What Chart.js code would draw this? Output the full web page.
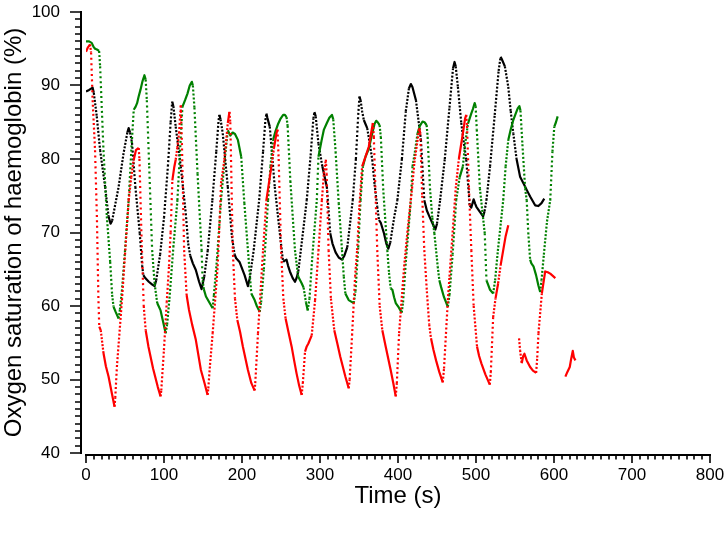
<!DOCTYPE html>
<html>
<head>
<meta charset="utf-8">
<script src="https://cdn.jsdelivr.net/npm/chart.js@4/dist/chart.umd.min.js"></script>
<style>
  html, body { margin: 0; padding: 0; background: #ffffff; }
  #wrap { width: 728px; height: 539px; }
</style>
</head>
<body>
<div id="wrap"><canvas id="c" width="728" height="539"></canvas></div>
<script>
// ---- data: [time (s), oxygen saturation (%)] ----
const blackData = [[0,89.2],[4,89.4],[8.5,89.7],[10,89.0],[13.8,85.8],[18.1,81.2],[24.5,76.2],[28.9,72.2],[31.5,71.2],[33.5,71.6],[35.3,72.6],[41.8,76.2],[48.2,80.8],[53,83.6],[54.7,84.2],[56.5,83.6],[59,82.2],[63.3,76.2],[68.9,69.9],[72,65.5],[73.5,64.2],[76,63.8],[80.5,63.3],[85,62.9],[87.9,62.7],[90,63.5],[95,67],[100,72],[105,79],[108.5,85],[110.5,87.8],[112,87.2],[115,84.4],[121.5,79],[127.9,72.6],[131,68.5],[133.5,66.9],[137,65.8],[140.8,64.9],[145,63.3],[148.2,62.3],[151.6,64],[156,67.5],[162,74.4],[167,81],[170,85.3],[171,86],[172.5,85.4],[175.3,83.5],[181.8,76.2],[187,69.5],[190.5,67],[192.5,66.5],[196.8,66],[203.3,64.2],[207.6,62.7],[210,63.8],[215,67.6],[222,74.4],[227,81],[230,85.3],[231.3,86.2],[232.5,85.6],[235.6,84.4],[242,76.2],[248.5,69.9],[251,67.5],[252.8,66],[255,66.2],[257.1,66.3],[259,65.5],[261.4,64.7],[265,63.8],[267.9,63.3],[270,63.8],[272.2,64.7],[277,69],[283,74.4],[288,80.5],[291.5,85.5],[292.9,86.4],[294.5,85.8],[298,82.1],[303,79],[308.8,76.2],[311,73],[313.1,69.9],[316,68.5],[320,67.3],[324,66.6],[328.2,66.3],[331,66.8],[335,68],[342,74.4],[346,80],[349,86],[350.6,88.5],[352,88],[354,86.5],[356.2,85.3],[360.5,84.2],[364,82],[367,79.9],[370,76.5],[373.4,73.5],[375.6,71.7],[378,71.3],[382,69.9],[385,68.5],[387.6,67.8],[390,68.6],[395,72],[399.2,74.4],[405,80],[410,86.5],[414,89.6],[416.5,90.2],[418.5,89.8],[423,88],[429.4,82.6],[433.7,74.4],[437,73],[440.2,72.2],[444,71.3],[447.9,70.4],[450,71.2],[454,74.4],[460,80],[466,87],[470.5,92.3],[472.5,93.2],[474,92.6],[476.8,89.8],[481.1,84.9],[484,82.5],[487.5,79.9],[491.9,73.7],[494,73.4],[497,74.5],[499,73.9],[500.5,73.5],[505,72.8],[509.1,72.2],[511,72.9],[513.4,74.4],[518,79],[524,86],[529,92],[531.5,93.9],[533,93.6],[537,92.6],[541.4,89.8],[544.5,86.5],[547.8,83.5],[552,80],[556.5,77.6],[560.8,76.7],[565,75.8],[569.4,74.9],[575.8,73.7],[580,73.6],[584,74],[587.5,74.6]];

const greenData = [[0,96.0],[4,96.0],[7.3,95.8],[9.5,95.3],[11.6,95.0],[14,94.9],[16.8,94.7],[18.1,92.6],[22.4,81.2],[26.7,72.2],[31,66],[33.5,61.5],[35.3,59.9],[38,59.2],[41.8,58.3],[43.5,59.5],[46,62],[50,67.5],[54.7,74.4],[58,81],[61.2,86.7],[63.5,87.1],[65.5,87.6],[67.5,88.5],[69.8,89.4],[72.5,90.6],[74.9,91.4],[76.5,90.8],[78,88],[81,79],[84.8,67.6],[88,63],[91.3,60.4],[95.6,59.4],[99,57.8],[102.1,56.3],[104,57.5],[107,61],[112,68],[117.2,74.4],[120.5,81],[123.6,87.1],[127,88],[130.1,88.9],[133,90],[135.7,90.5],[137,90.0],[139,87],[143,78],[148.2,67.6],[149.5,63.5],[151,62.3],[153.8,61.3],[158,60.5],[162.4,59.7],[164,61.5],[168,66.5],[173.1,74.4],[177,79],[181.8,83.9],[185,83.2],[188,83.6],[191,83.4],[194.7,82.6],[199,80.3],[203,74],[207.6,67.6],[211.9,61.7],[216.2,60.8],[219,60],[222.7,59.2],[224.5,60.5],[228,65],[233.4,74.4],[236.5,79],[239.9,82.6],[243,83.8],[246.4,84.8],[249.5,85.5],[252.8,86],[255,86],[257.1,85.7],[258.5,84.5],[262,77],[267.9,67.6],[272,64],[276.5,63.1],[279,62.5],[282,60.5],[284.3,59.4],[286.5,61],[290,66.5],[295.9,74.4],[298,80.3],[302,82.5],[305,84],[308.8,84.9],[312,85.6],[315.3,86],[317,85.4],[320,81],[324,74],[328.2,67.6],[330.5,64],[332.5,61.7],[336.8,60.8],[340,60.6],[343.3,60.4],[345.5,62],[349,68],[352,74.4],[355,79],[358.3,80.3],[362.6,81.4],[367,83.5],[370,84.8],[372.1,85.2],[374,85],[376.4,84.6],[378,83],[381,76],[386.3,67.6],[388.5,64.5],[390.6,62.4],[392.8,62.2],[395,61.2],[397.1,60.4],[401,59.8],[404.8,59.1],[406.5,60.5],[410,66],[416.5,74.4],[418.6,79],[421,80.5],[425.1,83.5],[428,84.5],[431.5,85.1],[434,85],[436.7,84.6],[438,83],[441,76],[444,72],[446.6,69.9],[450.9,65.4],[453,63.5],[455.2,62.6],[459,61.2],[463.9,59.9],[466,61.5],[470,67],[474.6,74.4],[479,77.5],[483.2,79],[486,82],[489.7,84.8],[494,86.2],[496,86.8],[498.3,87.6],[499.5,87.2],[501,84],[505,76],[511.2,69.9],[513.4,63.5],[515.5,62.9],[518,62.2],[522,61.7],[524.5,63.5],[528,67.5],[534.9,74.4],[538,79],[541.4,82.6],[544.5,84],[547.8,85.3],[551,86.2],[553.5,86.9],[555.6,87.2],[557,86.6],[559.5,82],[563,76],[565,74.4],[567,70],[569.4,66.3],[571,65.8],[573.7,65.4],[577,64.2],[580,62.8],[582.3,61.9],[584,63.5],[587,67],[591,71.5],[595.2,74.4],[598,81],[600.4,84.4],[602.5,85],[604.7,85.8]];

const redData = [[0,94.6],[2.5,95.2],[5.2,95.6],[6.5,94.5],[8.5,88],[11.6,81.2],[14,72],[15.9,61],[17,57.2],[18.9,56.7],[22.4,53.6],[25.5,51.8],[28.9,50.4],[33.2,48.1],[36.6,46.3],[37.5,47.5],[39.6,51.7],[46.1,60.8],[50,67],[54.7,74.4],[58,77.5],[61,79.8],[64,81.2],[67.6,81.5],[68.5,80],[71,70],[74,60],[76.5,56.7],[80,54.5],[86,51.5],[92,49],[95.6,47.7],[96.5,48.5],[99.9,54],[103.5,60.5],[106.4,65.4],[108.5,70],[110.7,77.1],[113,78.8],[115,79.9],[117,81.5],[119.3,83.5],[121,86.5],[121.5,87.3],[123,82],[125.8,67.6],[129,61.5],[132,59.5],[136,57.5],[140.8,55.4],[147.3,51.3],[152,49.5],[155.9,47.9],[156.8,48.8],[159,52],[162.4,56.3],[168.8,65.4],[171.5,72],[173.1,76.7],[177.4,79.9],[181.8,84.9],[183.9,86.4],[185,85],[188.2,67.6],[191,61],[194,58.1],[197.5,56.5],[201.1,54.5],[207.6,51.3],[212,49.5],[216.2,48.5],[217,49.5],[220.5,56.3],[227,67.6],[231.3,74.4],[237.7,79],[241,81.5],[244.2,83.5],[245.5,84],[247,80],[250,68],[253,61],[255.9,58.3],[259.5,56.5],[263.6,54.5],[267,52.5],[270,50.8],[273,49.3],[276.5,47.9],[278,49.5],[280.8,53.8],[283,54.5],[285.1,54.9],[287,55.4],[289.4,56],[293.7,60.8],[298,67.5],[302.4,74.4],[305,78],[307.5,79.9],[308.5,78],[311,67.6],[314,61],[318.3,56.7],[322,55],[326,53.1],[332.5,50.4],[336.8,48.8],[338,50],[341.1,56],[345,64],[347.6,67.6],[350.5,73.5],[354,79],[358.3,80.3],[362.6,81.7],[365.5,83.5],[367.8,84.9],[369,83],[373.4,67.6],[376.5,60],[379.9,56.7],[384.2,54.5],[390.6,51.3],[394,49.5],[397.1,47.7],[398.5,49.5],[401.4,56.3],[407.9,65.4],[412,70],[414,72],[418,76],[421,79.5],[425.1,82.6],[427.2,84.2],[428.5,83.5],[431,75],[433.7,67.6],[437,62],[440,57.5],[442.3,55.6],[445.5,54],[448.8,52.6],[453,51],[457.4,49.6],[459,51.5],[463.9,60.8],[466,64],[470,70],[474,76],[478,80],[483.2,83.5],[486,85.5],[487.5,86],[488.5,84.5],[491,76],[494,67.6],[497,60],[501.3,54.5],[504,53.2],[506.9,52.2],[512,50.7],[517.7,49.3],[519,51],[522,58.5],[525,61],[528.4,63.1],[531.5,65.5],[534.9,67.6],[538,69.5],[541.4,71],[548,null],[555.2,55.6],[556.5,54],[558.6,52.2],[560.5,53.2],[562.1,53.5],[565,52.6],[569.4,51.7],[573,51.2],[577.1,50.9],[578.5,53],[580.1,56.3],[584.4,61.7],[588.7,64.7],[592,64.6],[595.2,64.4],[598.5,64.1],[601.7,63.8],[608,null],[614.6,50.4],[617,51],[620.2,51.7],[622,52.8],[624.1,53.9],[625.5,53],[627.5,52.6]];

const xTickValues = [0, 100, 200, 300, 400, 500, 600, 700, 800];
const yTickValues = [40, 50, 60, 70, 80, 90, 100];
const xTitle = 'Time (s)';
const yTitle = 'Oxygen saturation of haemoglobin (%)';

// ---- helpers ----
const toPoints = arr => arr.map(p => ({ x: p[0], y: p[1] }));
const FONT = "'Liberation Sans', Arial, 'DejaVu Sans', sans-serif";

// fast-changing parts of each trace were sampled sparsely, so they look dotted
function makeDash(threshold) {
  return function (ctx) {
    const dx = ctx.p1.x - ctx.p0.x, dy = ctx.p1.y - ctx.p0.y;
    const dt = Math.abs(ctx.p1.parsed.x - ctx.p0.parsed.x) || 1;
    const speed = Math.hypot(dx, dy) / dt;
    if (speed < threshold) return undefined;
    return [2, Math.max(1.5, Math.min(3.4, 0.8 + speed * 0.11))];
  };
}

function series(label, data, color, threshold) {
  return {
    label, data: toPoints(data),
    borderColor: color, backgroundColor: color,
    borderWidth: 2.2, pointRadius: 0, pointHoverRadius: 0,
    tension: 0, fill: false, spanGaps: false,
    borderCapStyle: 'butt', borderJoinStyle: 'round',
    segment: { borderDash: makeDash(threshold) }
  };
}

// axis lines with major and minor tick marks, offset like the original
const axesPlugin = {
  id: 'offsetAxes',
  beforeDatasetsDraw(chart) {
    const { ctx, scales: { x, y } } = chart;
    const yLineX = x.getPixelForValue(x.min) - 5;
    const xLineY = y.getPixelForValue(y.min) + 2;
    ctx.save();
    ctx.strokeStyle = '#000';
    ctx.lineCap = 'butt';
    ctx.lineWidth = 2;
    ctx.beginPath();
    ctx.moveTo(yLineX, y.getPixelForValue(y.max) - 1);
    ctx.lineTo(yLineX, y.getPixelForValue(y.min) + 1);
    ctx.moveTo(x.getPixelForValue(x.min) - 1, xLineY);
    ctx.lineTo(x.getPixelForValue(x.max) + 1, xLineY);
    ctx.stroke();
    ctx.lineWidth = 1.6;
    ctx.beginPath();
    for (let v = y.min; v <= y.max + 1e-9; v += 1) {
      const py = Math.round(y.getPixelForValue(v));
      const len = (Math.round(v) % 10 === 0) ? 11 : 6;
      ctx.moveTo(yLineX, py);
      ctx.lineTo(yLineX - len, py);
    }
    for (let v = x.min; v <= x.max + 1e-9; v += 10) {
      const px = Math.round(x.getPixelForValue(v));
      const len = (Math.round(v) % 100 === 0) ? 8 : 4.5;
      ctx.moveTo(px, xLineY);
      ctx.lineTo(px, xLineY + len);
    }
    ctx.stroke();
    ctx.restore();
  }
};

new Chart(document.getElementById('c'), {
  type: 'line',
  data: {
    datasets: [
      series('Red', redData, '#ff0000', 5.5),
      series('Green', greenData, '#008000', 4.2),
      series('Black', blackData, '#000000', 4.0)
    ]
  },
  options: {
    responsive: false,
    devicePixelRatio: 1,
    animation: false,
    events: [],
    layout: { padding: { top: 12, right: 18, left: 0, bottom: 0 } },
    plugins: { legend: { display: false }, tooltip: { enabled: false } },
    scales: {
      x: {
        type: 'linear', min: 0, max: 800,
        grid: { display: false, drawTicks: false },
        border: { display: false },
        afterBuildTicks: s => { s.ticks = xTickValues.map(v => ({ value: v })); },
        afterFit: s => { s.height = 86; s.paddingLeft = 0; s.paddingRight = 0; },
        ticks: { padding: 12, maxRotation: 0, autoSkip: false, color: '#000',
                 font: { family: FONT, size: 17 } },
        title: { display: true, text: xTitle, color: '#000',
                 font: { family: FONT, size: 24 }, padding: { top: 0, bottom: 28 } }
      },
      y: {
        type: 'linear', min: 40, max: 100,
        grid: { display: false, drawTicks: false },
        border: { display: false },
        afterBuildTicks: s => { s.ticks = yTickValues.map(v => ({ value: v })); },
        afterFit: s => { s.width = 86; s.paddingTop = 0; s.paddingBottom = 0; },
        ticks: { padding: 26, color: '#000', font: { family: FONT, size: 17 } },
        title: { display: true, text: yTitle, color: '#000',
                 font: { family: FONT, size: 24 }, padding: { top: 0, bottom: 0 } }
      }
    }
  },
  plugins: [axesPlugin]
});
</script>
</body>
</html>
